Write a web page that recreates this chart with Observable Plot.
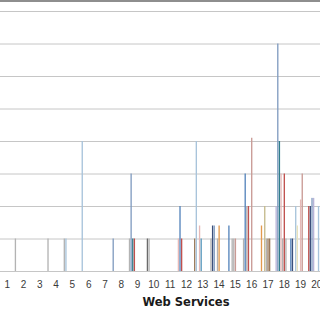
<!DOCTYPE html>
<html>
<head>
<meta charset="utf-8">
<script src="https://cdn.jsdelivr.net/npm/d3@7"></script>
<script src="https://cdn.jsdelivr.net/npm/@observablehq/plot@0.6"></script>
<style>
  html, body { margin: 0; padding: 0; background: #fff; }
  #chart { width: 320px; height: 320px; overflow: hidden; border-top: 2px solid #8e8e8e; box-sizing: border-box; }
</style>
</head>
<body>
<div id="chart"></div>
<script>
// ---- data ----
const categories = [1,2,3,4,5,6,7,8,9,10,11,12,13,14,15,16,17,18,19,20];
const gridValues = [0,1,2,3,4,5,6,7,8];
const axisTitle = "Web Services";

// one entry per visible bar: category, slot within cluster, series, value
const barCategory = [2, 4, 5,5, 6, 8, 9,9,9,9, 10,10, 12,12,12, 13,13,13,13, 14,14,14,14,14, 15,15,15,15, 16,16,16,16,16, 17,17,17,17,17, 18,18,18,18,18,18,18, 19,19,19,19,19,19, 20,20,20,20,20];
const barSlot     = [1, 1, 1,2, 2, 1, 1,2,3,4, 2,3,   1,2,3,    1,2,4,5,     1,2,3,5,6,      2,4,5,6,     1,2,3,4,6,      2,4,5,6,7,      1,2,3,4,5,6,7,         0,1,3,4,6,7,       1,2,3,4,7];
const barSeries   = ["S1","S1","S1","S2","S2","S3","S1","S3","S5","S4","S6","S1","S8","S7","S4","S9","S2","S8","S10","S1","S11","S3","S1","S12","S7","S1","S1","S13","S1","S7","S1","S4","S13","S12","S14","S1","S9","S9","S15","S3","S5","S8","S1","S4","S1","S7","S11","S2","S16","S8","S13","S4","S11","S3","S15","S2"];
const barValue    = [1, 1, 1,1, 4, 1, 1,3,1,1, 1,1, 1,2,1, 1,4,1.4,1, 1,1.4,1.4,1,1.4, 1.4,1,1,1, 1,3,2,2,4.1, 1.4,2,1,1,1, 2,7,4,3,1,3,1, 1,1,2,1.4,2.2,3, 2,2,2.25,2.25,2];

const seriesNames = ["S1","S2","S3","S4","S5","S6","S7","S8","S9","S10","S11","S12","S13","S14","S15","S16"];

// ---- styles ----
const seriesColors = ["#b3b3b3","#a7c3db","#819cc0","#c0504d","#2f7d8c","#6b6b6b","#5584bb","#e6b9b8","#9c7b5b","#5a9bbf","#3b4f7a","#e39a4e","#c99a94","#c4b98a","#b9b4d8","#e8e2bc"];
const slotWidth = 0.1;   // width of one series slot in category units
const slotsPerCluster = 8;

const bars = barCategory.map((c, i) => ({
  category: c,
  slot: barSlot[i],
  series: barSeries[i],
  value: barValue[i]
}));

const chart = Plot.plot({
  width: 320,
  height: 318,
  marginTop: 9,
  marginBottom: 49,
  marginLeft: 0,
  marginRight: 0,
  style: {fontFamily: "'Liberation Sans', Arial, sans-serif", fontSize: "10px", background: "#fff", color: "#3a3a3a"},
  x: {type: "linear", domain: [0.804, 20.44], axis: null},
  y: {domain: [0, 8], axis: null},
  color: {domain: seriesNames, range: seriesColors},
  marks: [
    Plot.ruleY(gridValues, {stroke: "#c6c6c6", strokeWidth: 1}),
    Plot.rectY(bars, {
      x1: d => d.category + (d.slot - slotsPerCluster / 2) * slotWidth,
      x2: d => d.category + (d.slot - slotsPerCluster / 2 + 1) * slotWidth,
      y: "value",
      fill: "series",
      insetLeft: 0.15,
      insetRight: 0.15
    }),
    Plot.axisX({ticks: categories, tickFormat: d => String(d), tickSize: 0, tickPadding: 9, dx: 3.5, fill: "#3a3a3a", fontSize: 10}),
    Plot.text([axisTitle], {frameAnchor: "bottom", dy: 34, dx: 25.5, fontSize: 11.5, fontWeight: "bold", fill: "#1a1a1a", fontFamily: "'DejaVu Sans', Verdana, sans-serif"})
  ]
});
document.getElementById("chart").appendChild(chart);
</script>
</body>
</html>
